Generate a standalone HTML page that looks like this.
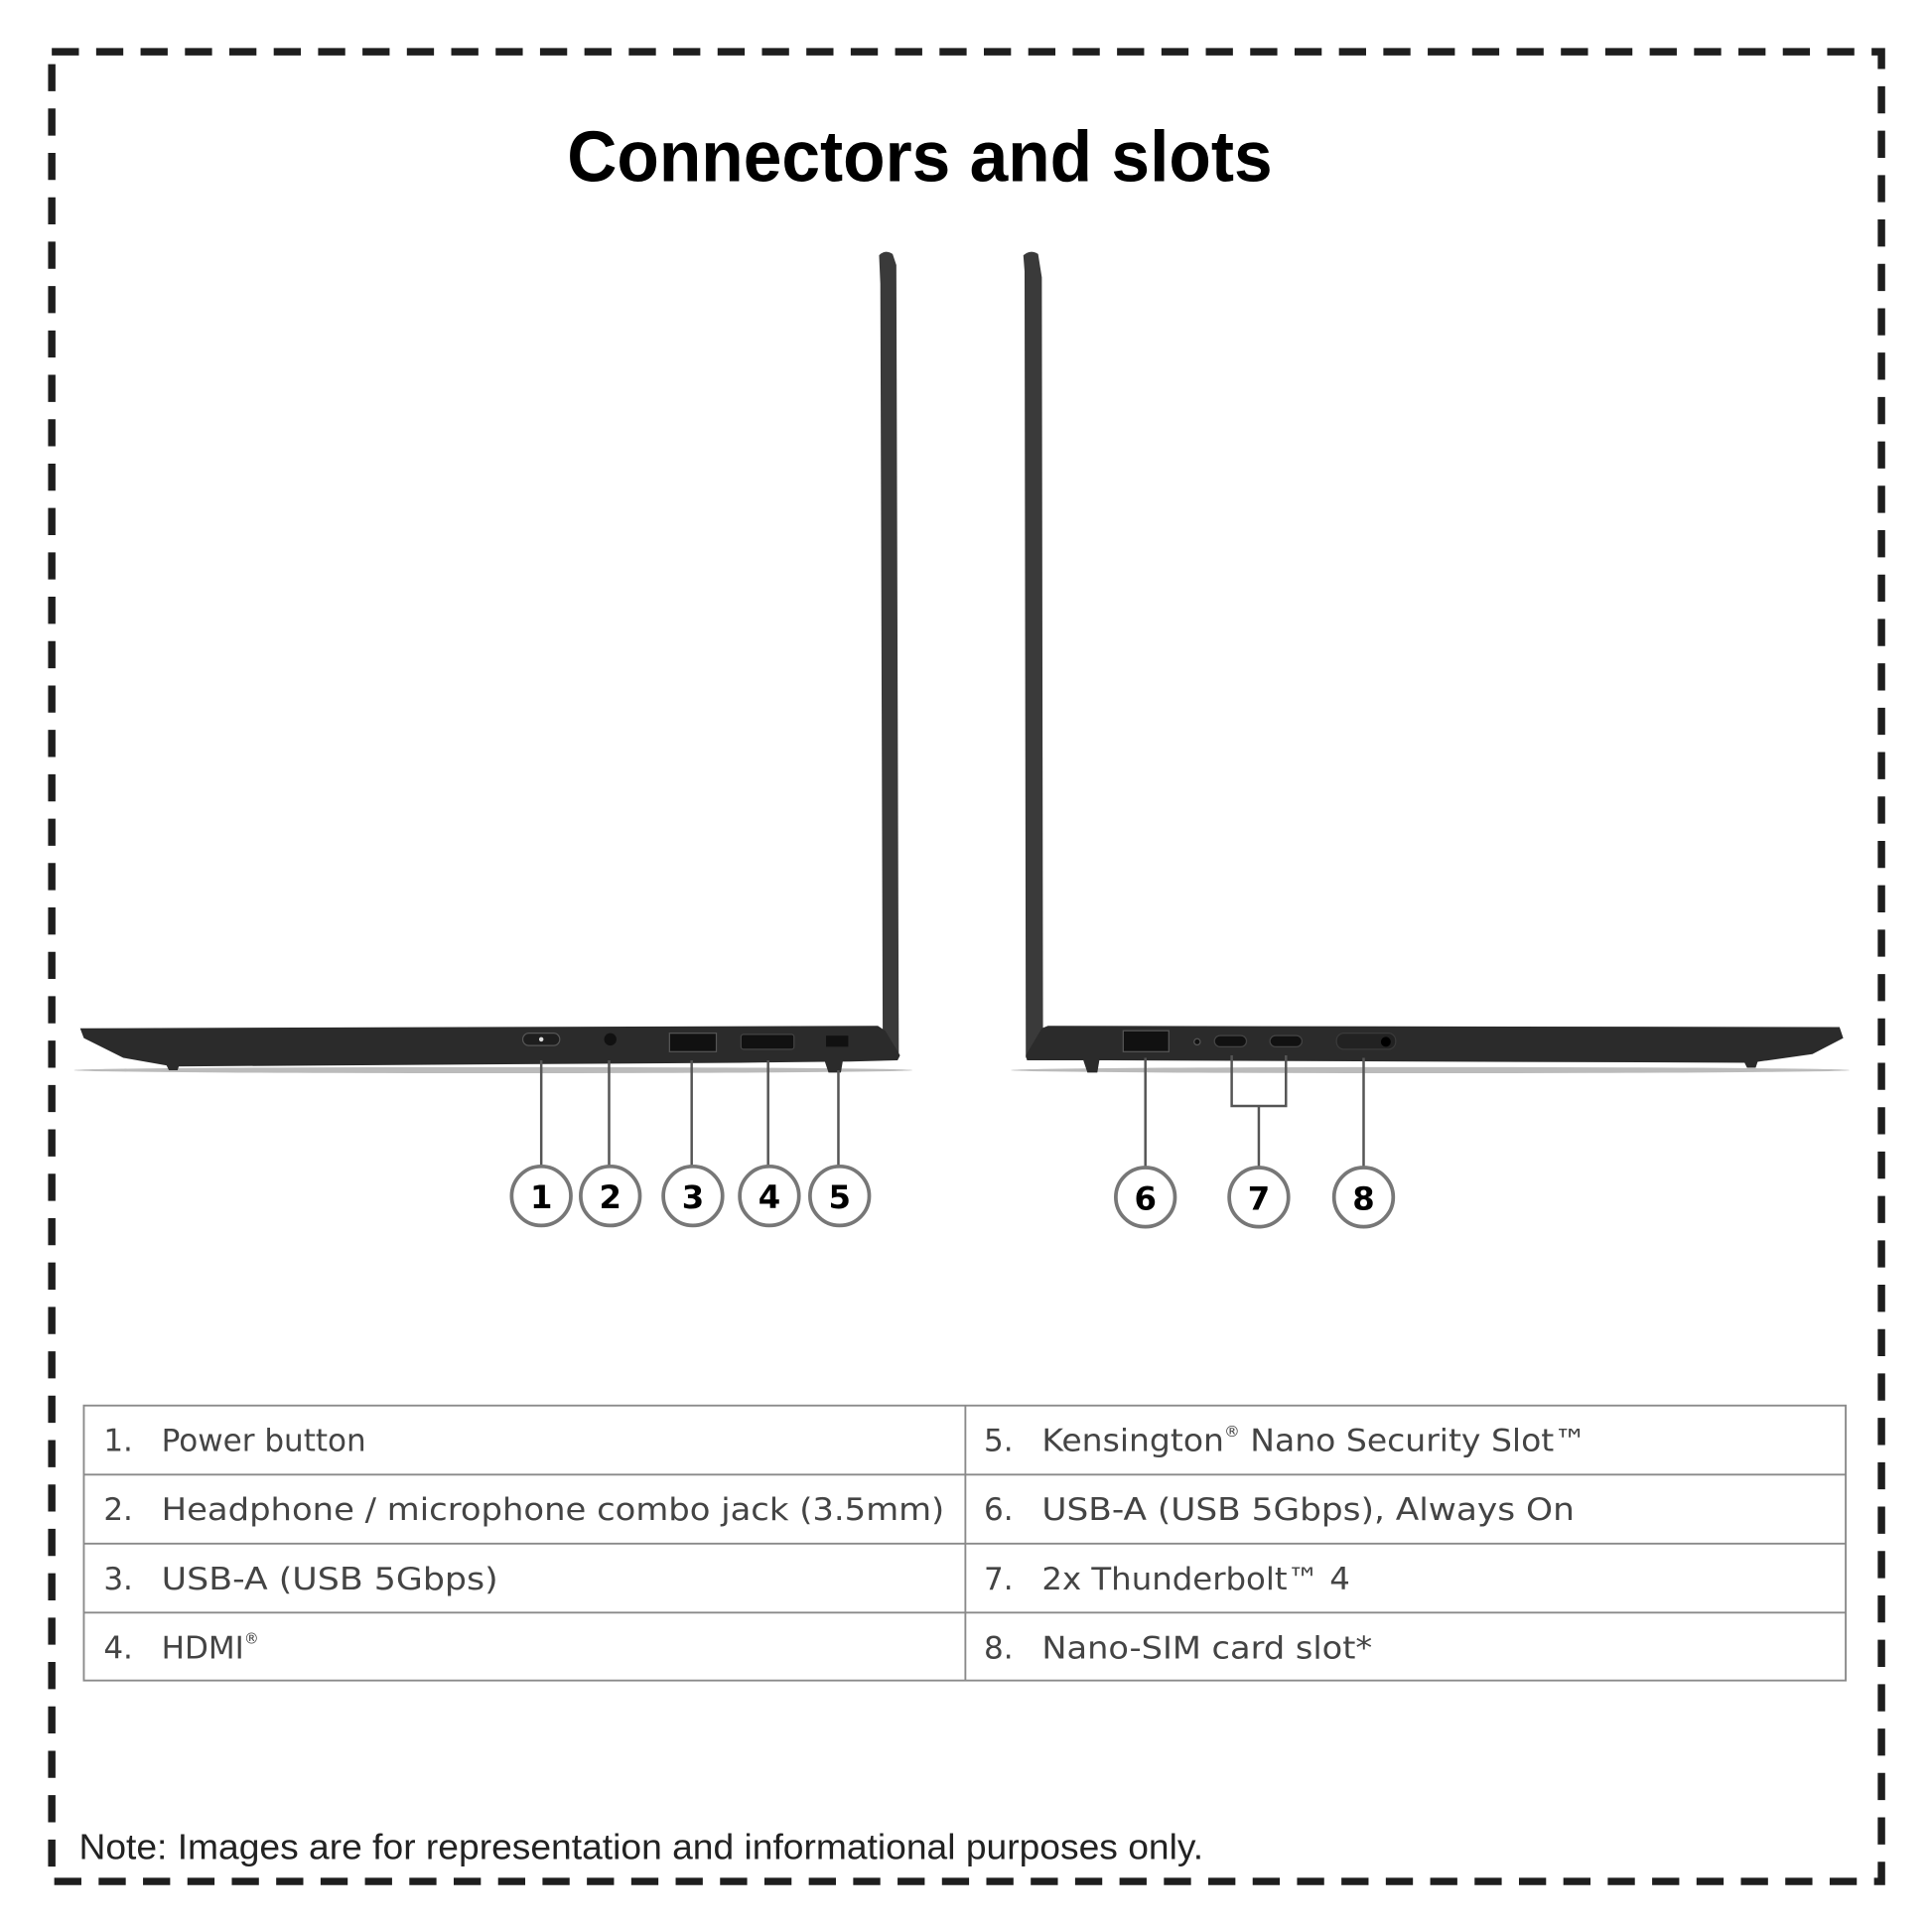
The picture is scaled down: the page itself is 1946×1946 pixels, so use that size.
<!DOCTYPE html>
<html><head><meta charset="utf-8"><style>
html,body{margin:0;padding:0;background:#fff;}
svg{display:block;}
</style></head><body>
<svg width="1946" height="1946" viewBox="0 0 1567 1567" xmlns="http://www.w3.org/2000/svg">
<rect x="0" y="0" width="1567" height="1567" fill="#fff"/>
<!-- dashed border -->
<rect x="42" y="42" width="1484" height="1484" fill="none" stroke="#1e1e1e" stroke-width="6" stroke-dasharray="22 14"/>
<!-- title -->
<text x="746" y="147" text-anchor="middle" font-family="Liberation Sans, sans-serif" font-weight="bold" font-size="58" fill="#000" textLength="572" lengthAdjust="spacingAndGlyphs">Connectors and slots</text>

<!-- left laptop -->
<path d="M713,207 Q718,202 724,206 L727,215 L729,858 L716,858 L714,230 Z" fill="#3a3a3a"/>
<ellipse cx="400" cy="868" rx="340" ry="2.5" fill="#bbb"/>
<path d="M65,834 L712,832 L718,836 L730,856 L728,860 L690,861 L600,862 L140,865 L100,858 L68,842 Z" fill="#2b2b2b"/>
<path d="M134,862 L146,862 L144,868 L137,868 Z" fill="#2b2b2b"/>
<path d="M668,858 L684,858 L682,870 L672,870 Z" fill="#2b2b2b"/>
<rect x="424" y="838" width="30" height="10" rx="5" fill="#1e1e1e" stroke="#555" stroke-width="1"/>
<circle cx="439" cy="843" r="1.8" fill="#ddd"/>
<circle cx="495" cy="843" r="5" fill="#111"/>
<rect x="543" y="838" width="38" height="15" fill="#111" stroke="#555" stroke-width="1"/>
<rect x="601" y="839" width="43" height="12" rx="2" fill="#111" stroke="#444" stroke-width="1"/>
<rect x="670" y="840" width="18" height="9" fill="#111"/>

<!-- right laptop -->
<path d="M830,207 Q836,202 842,206 L845,225 L846,858 L832,858 L831,220 Z" fill="#3a3a3a"/>
<ellipse cx="1160" cy="868" rx="340" ry="2.5" fill="#bbb"/>
<path d="M832,856 L845,834 L850,832 L1492,833 L1495,842 L1470,855 L1420,862 L900,860 L833,860 Z" fill="#2b2b2b"/>
<path d="M878,858 L892,858 L890,870 L882,870 Z" fill="#2b2b2b"/>
<path d="M1414,860 L1426,860 L1424,866 L1417,866 Z" fill="#2b2b2b"/>
<rect x="911" y="836" width="37" height="17" fill="#111" stroke="#555" stroke-width="1"/>
<circle cx="971" cy="845" r="2.5" fill="#111" stroke="#555" stroke-width="1"/>
<rect x="985" y="840" width="26" height="9" rx="4.5" fill="#111" stroke="#444" stroke-width="1"/>
<rect x="1030" y="840" width="26" height="9" rx="4.5" fill="#111" stroke="#444" stroke-width="1"/>
<rect x="1084" y="838" width="48" height="13" rx="6" fill="#222" stroke="#3a3a3a" stroke-width="1"/>
<circle cx="1124" cy="845" r="4" fill="#000"/>

<!-- callout lines -->
<g stroke="#555" stroke-width="2" fill="none">
<line x1="439" y1="860" x2="439" y2="946"/>
<line x1="494" y1="860" x2="494" y2="946"/>
<line x1="561" y1="860" x2="561" y2="946"/>
<line x1="623" y1="860" x2="623" y2="946"/>
<line x1="680" y1="868" x2="680" y2="946"/>
<line x1="929" y1="858" x2="929" y2="947"/>
<polyline points="999,856 999,897 1043,897 1043,856"/>
<line x1="1021" y1="897" x2="1021" y2="947"/>
<line x1="1106" y1="858" x2="1106" y2="947"/>
</g>
<g stroke="#777" stroke-width="3" fill="#fff">
<circle cx="439" cy="970" r="24"/><circle cx="495" cy="970" r="24"/><circle cx="562" cy="970" r="24"/><circle cx="624" cy="970" r="24"/><circle cx="681" cy="970" r="24"/>
<circle cx="929" cy="971" r="24"/><circle cx="1021" cy="971" r="24"/><circle cx="1106" cy="971" r="24"/>
</g>
<g font-family="DejaVu Sans, sans-serif" font-weight="bold" font-size="26" fill="#000" text-anchor="middle">
<text x="439" y="980">1</text><text x="495" y="980">2</text><text x="562" y="980">3</text><text x="624" y="980">4</text><text x="681" y="980">5</text>
<text x="929" y="981">6</text><text x="1021" y="981">7</text><text x="1106" y="981">8</text>
</g>

<!-- table -->
<g stroke="#8a8a8a" stroke-width="1.5" fill="none">
<rect x="68" y="1140" width="1429" height="223"/>
<line x1="68" y1="1196" x2="1497" y2="1196"/>
<line x1="68" y1="1252" x2="1497" y2="1252"/>
<line x1="68" y1="1308" x2="1497" y2="1308"/>
<line x1="783" y1="1140" x2="783" y2="1363"/>
</g>
<g font-family="DejaVu Sans, sans-serif" font-size="25" fill="#444">
<text x="84" y="1177">1.</text><text x="131" y="1177">Power button</text>
<text x="84" y="1233">2.</text><text x="131" y="1233" textLength="635" lengthAdjust="spacingAndGlyphs">Headphone / microphone combo jack (3.5mm)</text>
<text x="84" y="1289">3.</text><text x="131" y="1289" textLength="273" lengthAdjust="spacingAndGlyphs">USB-A (USB 5Gbps)</text>
<text x="84" y="1345">4.</text><text x="131" y="1345">HDMI<tspan font-size="12" dy="-12">®</tspan></text>
<text x="798" y="1177">5.</text><text x="845" y="1177" textLength="442" lengthAdjust="spacingAndGlyphs">Kensington<tspan font-size="12" dy="-12">®</tspan><tspan dy="12"> Nano Security Slot™</tspan></text>
<text x="798" y="1233">6.</text><text x="845" y="1233" textLength="432" lengthAdjust="spacingAndGlyphs">USB-A (USB 5Gbps), Always On</text>
<text x="798" y="1289">7.</text><text x="845" y="1289" textLength="250" lengthAdjust="spacingAndGlyphs">2x Thunderbolt™ 4</text>
<text x="798" y="1345">8.</text><text x="845" y="1345" textLength="268" lengthAdjust="spacingAndGlyphs">Nano-SIM card slot*</text>
</g>

<!-- note -->
<text x="64" y="1508" font-family="Liberation Sans Narrow, Liberation Sans, sans-serif" font-size="29" fill="#222" textLength="912" lengthAdjust="spacingAndGlyphs">Note: Images are for representation and informational purposes only.</text>
</svg>
</body></html>
